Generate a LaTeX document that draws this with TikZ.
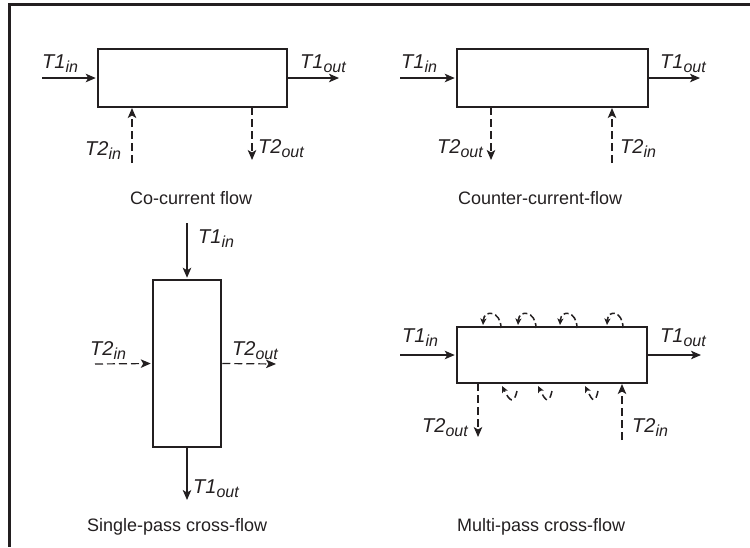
\documentclass[tikz,border=0pt]{standalone}
\usepackage{fontspec}
\setmainfont{Liberation Sans}
\usetikzlibrary{arrows.meta}
\definecolor{ink}{HTML}{231F20}
\newcommand{\tlab}[2]{{\fontsize{20}{22}\selectfont\textit{#1}}\raisebox{-4pt}{\fontsize{16}{16}\selectfont\textit{#2}}}
\tikzset{
  hx/.style={draw=ink, line width=2.5pt, inner sep=0pt, fill=white},
  solidflow/.style={draw=ink, line width=1.3pt, -{Stealth[length=10pt,width=8.5pt,inset=2.5pt]}, shorten >=1pt},
  dashflow/.style={draw=ink, line width=1.2pt, dash pattern=on 8pt off 4pt, -{Stealth[length=10pt,width=8.5pt,inset=2.5pt]}, shorten >=1pt},
  passloop/.style={draw=ink, line width=1.5pt, dash pattern=on 5pt off 3pt, -{Stealth[length=6.5pt,width=6pt,inset=1.5pt]}},
  lbl/.style={anchor=base west, inner sep=0pt, text=ink},
  captext/.style={anchor=base west, inner sep=0pt, text=ink, font=\fontsize{18}{20}\selectfont},
  frameline/.style={draw=ink, line width=2.5pt}
}
\begin{document}
\begin{tikzpicture}[x=1pt,y=-1pt]
\useasboundingbox (0,0) rectangle (750,547);
% frame
\coordinate (fa) at (8,4.5);
\coordinate (fb) at (750,4.5);
\coordinate (fc) at (9.7,4.5);
\coordinate (fd) at (9.7,547);
\draw[frameline] (fa) -- (fb);
\draw[frameline] (fc) -- (fd);

% ---------- Co-current ----------
\node[hx, minimum width=189pt, minimum height=58pt] (co) at (192.5,78) {};
\coordinate (coT1i) at (42,78);
\coordinate (coT1o) at (340,78);
\coordinate (coT2i) at (132,163);
\coordinate (coT2o) at (252,161);
\coordinate (coT2ib) at (132,107);
\coordinate (coT2ob) at (252,107);
\draw[solidflow] (coT1i) -- (co.west);
\draw[solidflow] (co.east) -- (coT1o);
\draw[dashflow] (coT2i) -- (coT2ib);
\draw[dashflow] (coT2ob) -- (coT2o);
\node[lbl] (coL1) at (42,68) {\tlab{T1}{in}};
\node[lbl] (coL2) at (300,68) {\tlab{T1}{out}};
\node[lbl] (coL3) at (85,155) {\tlab{T2}{in}};
\node[lbl] (coL4) at (258,153) {\tlab{T2}{out}};
\node[captext] (coC) at (130,204) {Co-current flow};

% ---------- Counter-current ----------
\node[hx, minimum width=191pt, minimum height=58pt] (cc) at (552.5,78) {};
\coordinate (ccT1i) at (400,78);
\coordinate (ccT1o) at (701,78);
\coordinate (ccT2o) at (491,161);
\coordinate (ccT2ob) at (491,107);
\coordinate (ccT2i) at (612,163);
\coordinate (ccT2ib) at (612,107);
\draw[solidflow] (ccT1i) -- (cc.west);
\draw[solidflow] (cc.east) -- (ccT1o);
\draw[dashflow] (ccT2ob) -- (ccT2o);
\draw[dashflow] (ccT2i) -- (ccT2ib);
\node[lbl] (ccL1) at (401,68) {\tlab{T1}{in}};
\node[lbl] (ccL2) at (660,68) {\tlab{T1}{out}};
\node[lbl] (ccL3) at (437,153) {\tlab{T2}{out}};
\node[lbl] (ccL4) at (620,153) {\tlab{T2}{in}};
\node[captext] (ccC) at (458,204) {Counter-current-flow};

% ---------- Single-pass cross-flow ----------
\node[hx, minimum width=68pt, minimum height=167pt] (sp) at (187,363.5) {};
\coordinate (spT1i) at (187,223);
\coordinate (spT1o) at (187,501);
\coordinate (spT2i) at (95,364);
\coordinate (spT2o) at (277,364);
\draw[solidflow] (spT1i) -- (sp.north);
\draw[solidflow] (sp.south) -- (spT1o);
\draw[dashflow] (spT2i) -- (sp.west);
\draw[dashflow] (sp.east) -- (spT2o);
\node[lbl] (spL1) at (198,243) {\tlab{T1}{in}};
\node[lbl] (spL2) at (193,493) {\tlab{T1}{out}};
\node[lbl] (spL3) at (90,355) {\tlab{T2}{in}};
\node[lbl] (spL4) at (232,355) {\tlab{T2}{out}};
\node[captext] (spC) at (87,531) {Single-pass cross-flow};

% ---------- Multi-pass cross-flow ----------
\node[hx, minimum width=190pt, minimum height=56pt] (mp) at (552,355) {};
\coordinate (mpT1i) at (400,355);
\coordinate (mpT1o) at (702,355);
\coordinate (mpT2o) at (478,438);
\coordinate (mpT2ob) at (478,383);
\coordinate (mpT2i) at (622,440);
\coordinate (mpT2ib) at (622,383);
\draw[solidflow] (mpT1i) -- (mp.west);
\draw[solidflow] (mp.east) -- (mpT1o);
\draw[dashflow] (mpT2ob) -- (mpT2o);
\draw[dashflow] (mpT2i) -- (mpT2ib);
% loops over the top
\foreach \a/\r in {483/501, 518/536, 560/577, 607/623}{
  \coordinate (ts) at (\r,328);
  \coordinate (te) at (\a,325);
  \draw[passloop, dash pattern=on 5pt off 3pt on 7pt off 3pt] (ts) .. controls (\r,311) and (\a+1,309) .. (te);
}
% loops below
\foreach \a/\s in {502/517, 538/552, 585/598}{
  \coordinate (bs) at (\s,391);
  \coordinate (be) at (\a,386);
  \draw[passloop, dash pattern=on 7pt off 4pt] (bs) .. controls (\s-3,404) and (\a+8,402) .. (be);
}
\node[lbl] (mpL1) at (402,342) {\tlab{T1}{in}};
\node[lbl] (mpL2) at (660,342) {\tlab{T1}{out}};
\node[lbl] (mpL3) at (422,432) {\tlab{T2}{out}};
\node[lbl] (mpL4) at (632,432) {\tlab{T2}{in}};
\node[captext] (mpC) at (457,531) {Multi-pass cross-flow};
\end{tikzpicture}
\end{document}
